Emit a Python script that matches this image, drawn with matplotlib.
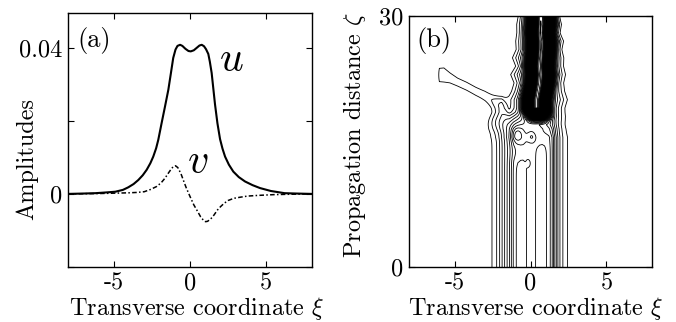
import numpy as np
import matplotlib
matplotlib.use("Agg")
import matplotlib.pyplot as plt

# ---- panel (a): stationary profiles
xi_u = [-8, -7, -6.2, -5.5, -4.9, -4.4, -4.05, -3.7, -3.39, -3.1, -2.84, -2.6, -2.41,
        -2.22, -2.08, -1.86, -1.64, -1.42, -1.25, -1.1, -0.95, -0.82, -0.65, -0.5,
        -0.3, -0.1, 0.05, 0.25, 0.45, 0.62, 0.77, 0.92, 1.05, 1.2, 1.3, 1.42, 1.64,
        1.8, 1.97, 2.13, 2.3, 2.55, 2.84, 3.2, 3.61, 4.1, 4.59, 5.3, 6.2, 7, 8]
u_amp = [0, 0.0001, 0.0002, 0.0004, 0.0006, 0.0011, 0.0018, 0.0027, 0.0038, 0.0051,
         0.0066, 0.0084, 0.0102, 0.0125, 0.0148, 0.0194, 0.0239, 0.0285, 0.0331,
         0.0372, 0.0395, 0.0405, 0.0408, 0.0405, 0.0397, 0.0391, 0.0390, 0.0393,
         0.0400, 0.0406, 0.0408, 0.0404, 0.0396, 0.0383, 0.0362, 0.0331, 0.0245,
         0.0193, 0.0150, 0.0124, 0.0102, 0.0080, 0.0061, 0.0046, 0.0034, 0.0024,
         0.0016, 0.0008, 0.0002, 0.0001, 0]

xi_v = [-8, -6, -5, -4, -3.5, -3, -2.6, -2.2, -1.9, -1.64, -1.4, -1.2, -1.08, -0.95,
        -0.8, -0.6, -0.44, -0.25, 0, 0.25, 0.5, 0.7, 0.9, 1.02, 1.15, 1.35, 1.57,
        1.8, 2.0, 2.23, 2.5, 2.88, 3.3, 3.76, 4.5, 5.5, 6.5, 8]
v_amp = [0, 0.0001, 0.0002, 0.0003, 0.0004, 0.0006, 0.0012, 0.0020, 0.0030, 0.0043,
         0.0058, 0.0070, 0.0075, 0.0077, 0.0072, 0.0056, 0.0038, 0.0017, -0.0007,
         -0.0030, -0.0048, -0.0063, -0.0073, -0.0076, -0.0075, -0.0069, -0.0058,
         -0.0044, -0.0035, -0.0026, -0.0018, -0.0012, -0.0009, -0.0006, -0.0004,
         -0.0002, -0.0001, 0]

# ---- panel (b): evolution
# local bumps on the initial profile (xi, zeta, amplitude, width in xi, width in zeta)
bump_xi = [-0.85, 0.75, -0.9, 0.08, -0.15, -2.1]
bump_zeta = [13.8, 15.8, 15.9, 15.6, 12.4, 17.6]
bump_amp = [-0.003, -0.003, 0.007, 0.005, 0.002, 0.009]
bump_sx = [0.5, 0.5, 0.35, 0.25, 0.12, 0.9]
bump_sz = [1.2, 1.2, 0.9, 0.6, 0.4, 1.4]

# collapsed beam above zeta ~ 17.5
z_up = [16, 17, 17.5, 18, 18.5, 19, 20, 21, 22, 23, 24, 25, 26, 27, 28, 29, 30]
beam_c = [0.5, 0.5, 0.5, 0.5, 0.45, 0.4, 0.4, 0.5, 0.6, 0.65, 0.6, 0.65, 0.7,
          0.7, 0.65, 0.7, 0.7]
beam_p = [0.0, 0.0, 0.03, 0.1, 0.18, 0.25, 0.25, 0.25, 0.25, 0.25, 0.25, 0.25, 0.25,
          0.25, 0.25, 0.25, 0.25]
ped_c = [0.0, 0.1, 0.2, 0.3, 0.35, 0.4, 0.45, 0.5, 0.55, 0.5, 0.6, 0.5, 0.55, 0.6,
         0.5, 0.55, 0.5]
ped_w = [1.75, 1.75, 1.75, 1.7, 1.65, 1.6, 1.7, 1.5, 1.4, 1.55, 1.35, 1.45, 1.28, 1.35,
         1.2, 1.25, 1.12]
blend_z = [0, 15.5, 16.5, 17.5, 18.5, 30]
blend_w = [0, 0, 0.25, 0.7, 1, 1]

# thin tongue radiated to the left
tongue_xi = [-6.2, -6.0, -5.7, -5.3, -4.8, -4.2, -3.6, -3.0, -2.5, -1.9, -1.4]
tongue_zeta = [22.95, 22.95, 22.95, 22.6, 22.1, 21.6, 21.0, 20.5, 19.9, 19.3, 18.9]
tongue_amp = [0.0, 0.0112, 0.0115, 0.0108, 0.0104, 0.0104, 0.0104, 0.0104, 0.0105,
              0.011, 0.0]
tongue_s = [1.6, 1.7, 1.7, 1.4, 1.25, 1.25, 1.25, 1.25, 1.25, 1.2, 1.2]

ped_a = 0.035
beam_w = 0.65
levels = np.arange(0.009, 0.3, 0.0034)

plt.rcParams['font.family'] = 'cmr10'
plt.rcParams['mathtext.fontset'] = 'cm'
plt.rcParams['axes.unicode_minus'] = False
plt.rcParams['axes.formatter.use_mathtext'] = True

fig = plt.figure(figsize=(6.76, 3.22), dpi=100)
ax1 = fig.add_axes([68 / 676, 55 / 322, 244 / 676, 254 / 322])
ax2 = fig.add_axes([409 / 676, 55 / 322, 243 / 676, 251 / 322])

# (a)
ax1.plot(xi_u, u_amp, color='k', lw=1.5)
ax1.plot(xi_v, v_amp, color='k', lw=1.1, dashes=(3, 1.5, 1, 1.5))
ax1.set_xlim(-8, 8)
ax1.set_ylim(-0.02, 0.0495)
ax1.set_xticks([-5, 0, 5])
ax1.set_xticklabels(['-5', '0', '5'])
ax1.set_yticks([-0.02, 0, 0.02, 0.04])
ax1.set_yticklabels(['', '0', '', '0.04'])
ax1.set_xlabel(r'Transverse coordinate $\xi$', fontsize=17.5)
ax1.set_ylabel('Amplitudes', fontsize=17.5)
ax1.xaxis.set_label_coords(0.527, -0.11)
ax1.yaxis.set_label_coords(-0.123, 0.425)
ax1.text(0.037, 0.945, '(a)', transform=ax1.transAxes, fontsize=19, va='top')
ax1.text(1.9, 0.0335, r'$u$', fontsize=30)
ax1.text(-0.2, 0.0058, r'$v$', fontsize=30)

# (b)
xg = np.linspace(-8, 8, 801)
zg = np.linspace(0, 30, 601)
XI, ZE = np.meshgrid(xg, zg)

low = np.interp(XI, xi_u, u_amp)
lobe = np.zeros_like(XI)
for bx, bz, ba, sx, sz in zip(bump_xi, bump_zeta, bump_amp, bump_sx, bump_sz):
    g = ba * np.exp(-((XI - bx) / sx) ** 2 - ((ZE - bz) / sz) ** 2)
    if bx < -2:
        lobe += g
    else:
        low += g

bc = np.interp(zg, z_up, beam_c)[:, None]
bp = np.interp(zg, z_up, beam_p)[:, None]
pc = np.interp(zg, z_up, ped_c)[:, None]
pw = np.interp(zg, z_up, ped_w)[:, None]
up = ped_a * np.exp(-((XI - pc) / pw) ** 2) + bp * np.exp(-np.abs((XI - bc) / beam_w) ** 2.5)
T = np.interp(zg, blend_z, blend_w)[:, None]

tz = np.interp(xg, tongue_xi, tongue_zeta)[None, :]
ta = np.interp(xg, tongue_xi, tongue_amp, left=0, right=0)[None, :]
ts = np.interp(xg, tongue_xi, tongue_s)[None, :]
tongue = ta * np.exp(-((ZE - tz) / ts) ** 2)

field = (1 - T) * low + T * up + lobe + tongue
ax2.contour(XI, ZE, field, levels=levels, colors='k', linewidths=0.6)
ax2.set_xlim(-8, 8)
ax2.set_ylim(0, 30)
ax2.set_xticks([-5, 0, 5])
ax2.set_xticklabels(['-5', '0', '5'])
ax2.set_yticks([0, 30])
ax2.set_yticklabels(['0', '30'])
ax2.set_xlabel(r'Transverse coordinate $\xi$', fontsize=17.5)
ax2.set_ylabel(r'Propagation distance $\zeta$', fontsize=17.5)
ax2.xaxis.set_label_coords(0.52, -0.11)
ax2.yaxis.set_label_coords(-0.169, 0.526)
ax2.text(0.029, 0.956, '(b)', transform=ax2.transAxes, fontsize=19, va='top')

for ax in (ax1, ax2):
    ax.tick_params(direction='in', top=True, right=True, length=4, width=0.8,
                   labelsize=17.5, pad=4)
    for s in ax.spines.values():
        s.set_linewidth(1.0)

fig.savefig('out.png', dpi=100)
